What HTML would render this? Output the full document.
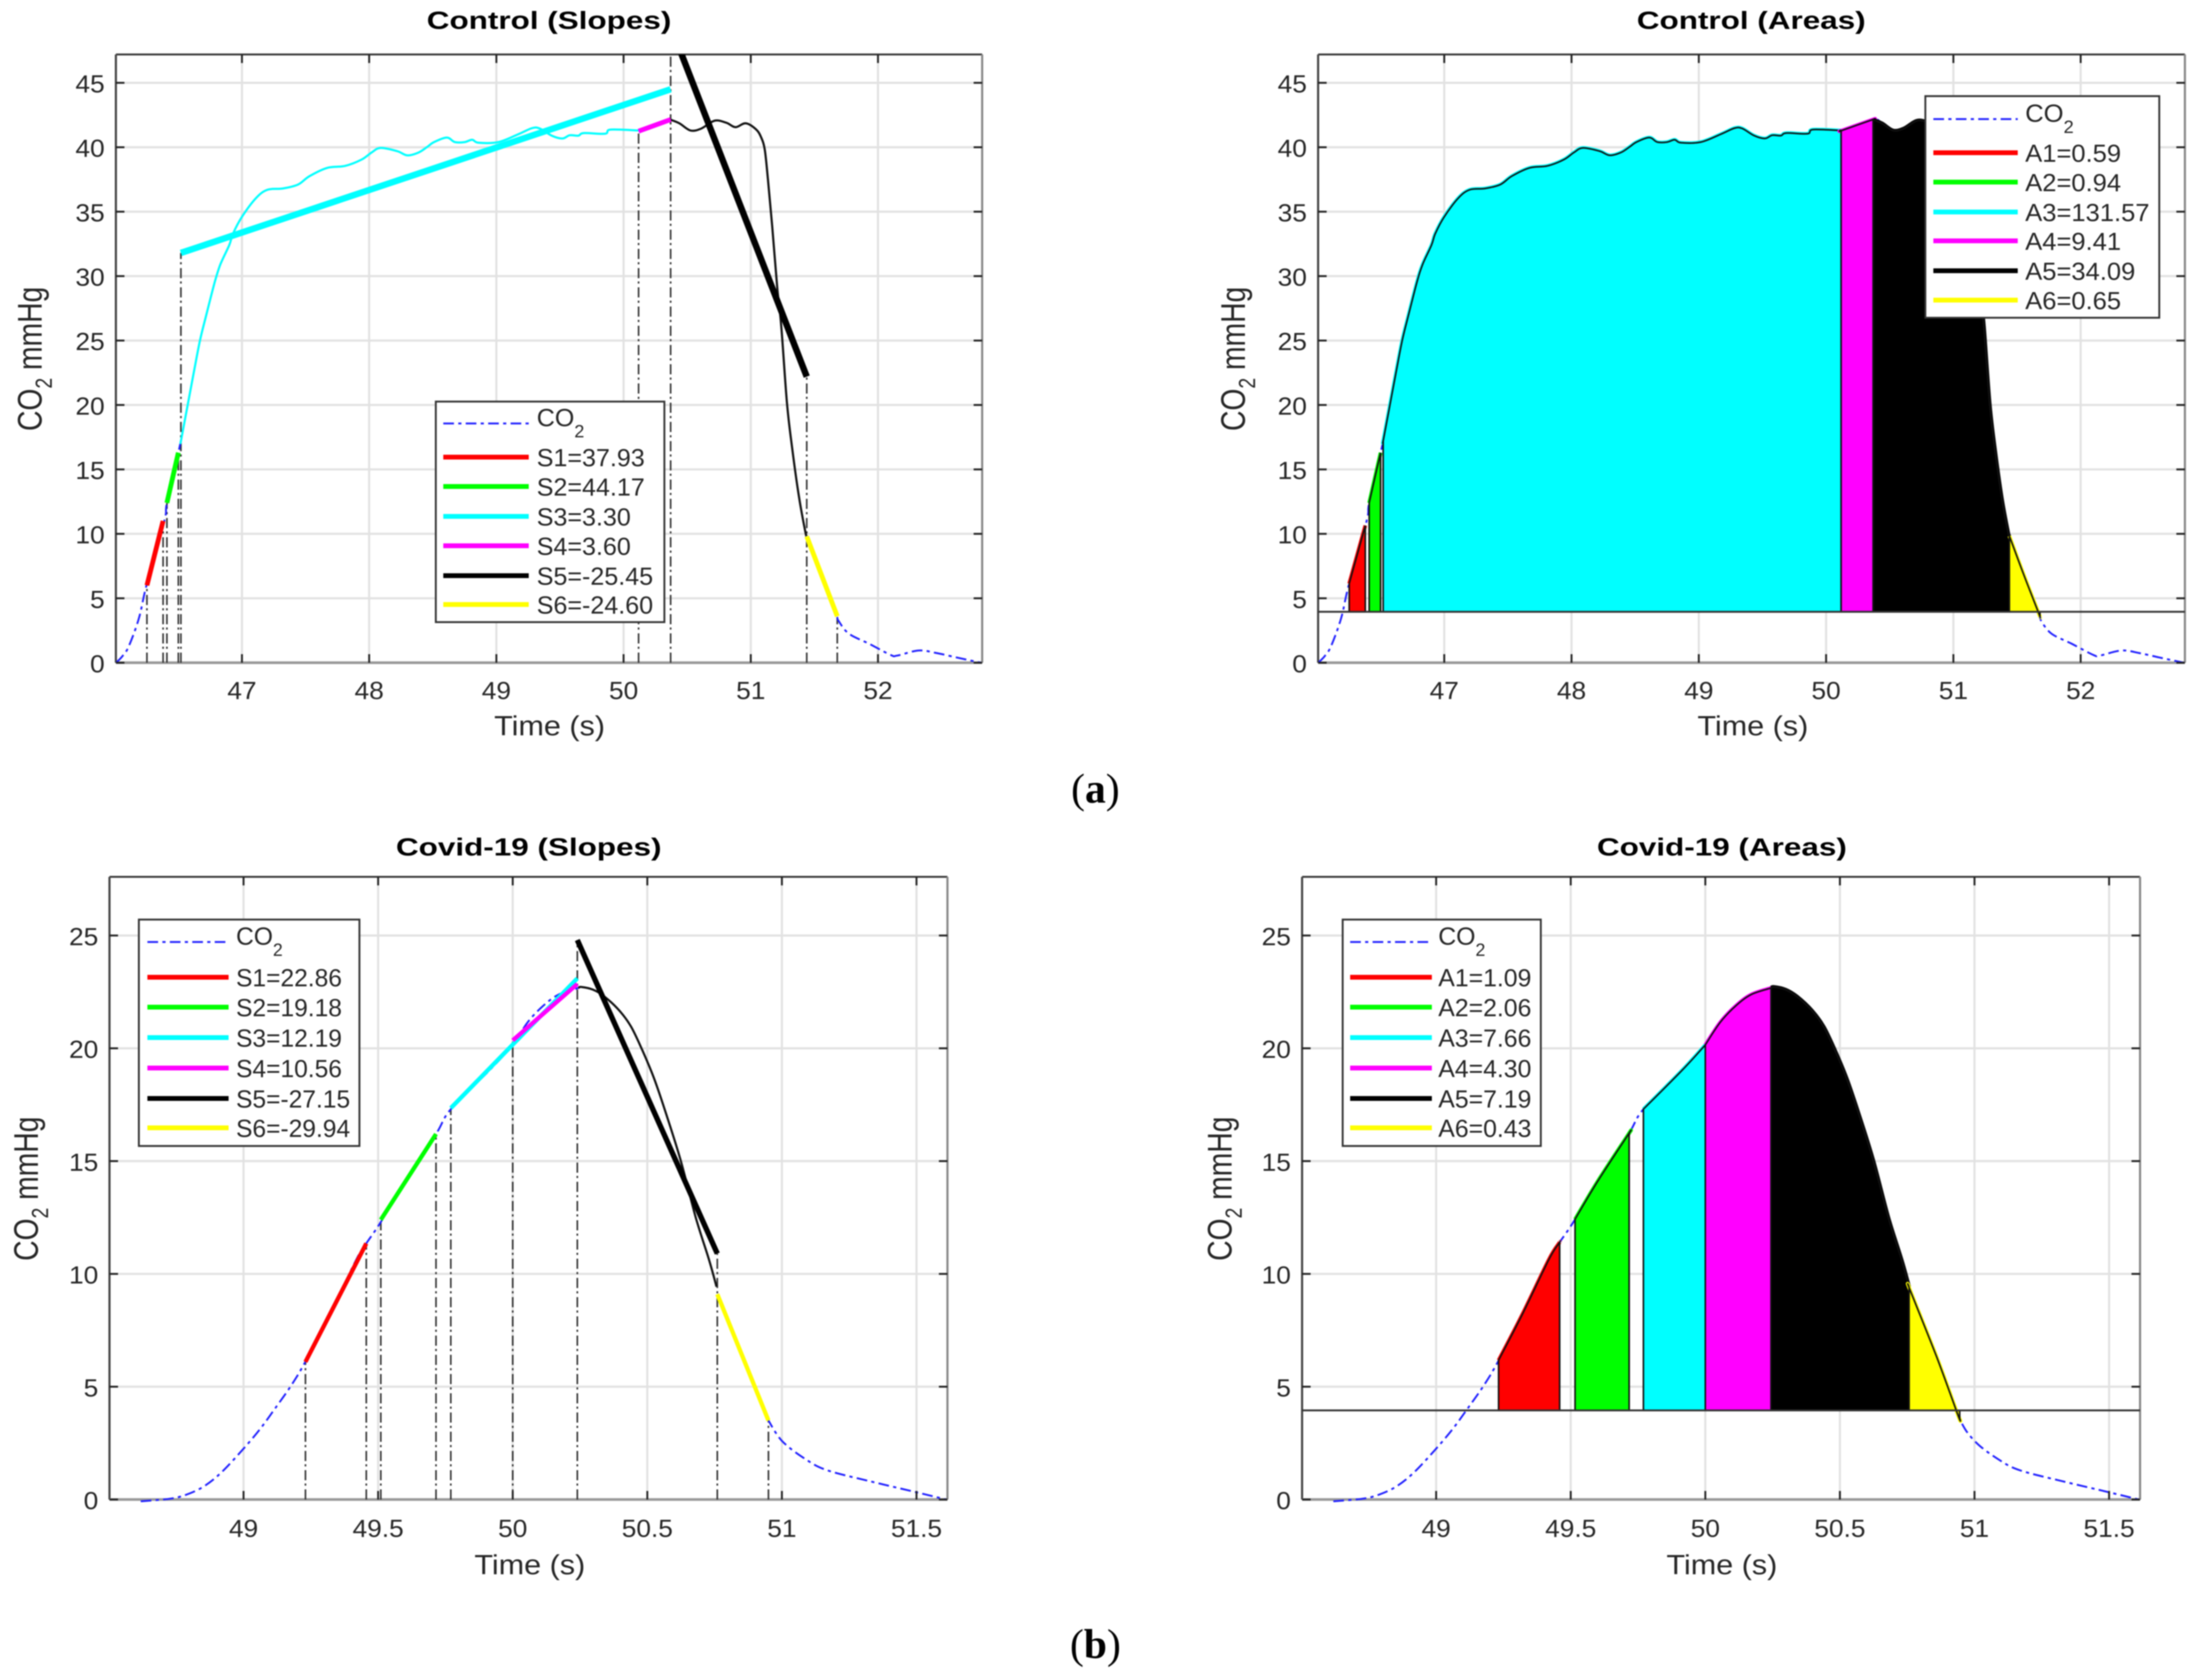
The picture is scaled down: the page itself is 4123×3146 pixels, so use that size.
<!DOCTYPE html>
<html lang="en">
<head>
<meta charset="utf-8">
<title>CO2 capnogram slopes and areas</title>
<style>
html,body{margin:0;padding:0;background:#fff;overflow:hidden}
svg{display:block;filter:blur(1px)}
text{font-family:"Liberation Sans",sans-serif;fill:#262626}
.leg{font-size:46px}
.sub{font-size:33px}
.title{font-size:46px;font-weight:bold;fill:#000;text-anchor:middle}
.xl{font-size:52px;text-anchor:middle}
.yl{font-size:53px;text-anchor:middle}
.yl .s2{font-size:36px}
.cap{font-family:"Liberation Serif",serif;font-size:78px;fill:#000;text-anchor:middle}
.box{fill:#fff;stroke:#333;stroke-width:3.5}
.co2{stroke:#2020ff;stroke-width:3.5;stroke-dasharray:20 8 6 8;fill:none}
</style>
</head>
<body>
<svg xmlns="http://www.w3.org/2000/svg" width="4123" height="3146" viewBox="0 0 4123 3146">
<rect x="0" y="0" width="4123" height="3146" fill="#fff"/>

<!-- Panel a, slopes -->
<g>
  <text class="title" transform="translate(1028,54) scale(1.28,1)">Control (Slopes)</text>
  <g id="plot-a-slopes"></g>
  <text class="xl" transform="translate(1029,1377) scale(1.1,1)">Time (s)</text>
  <text class="yl" transform="translate(78,672) scale(1.2,1) rotate(-90)">CO<tspan class="s2" dy="16">2</tspan><tspan dy="-16"> mmHg</tspan></text>
  <g>
    <rect class="box" x="816" y="752" width="428" height="413"/>
    <line class="co2" x1="830" y1="793" x2="990" y2="793"/>
    <text class="leg" transform="translate(1005,798) scale(1.02,1)">CO<tspan class="sub" dy="21">2</tspan></text>
    <line x1="830" y1="856" x2="990" y2="856" stroke="#ff0000" stroke-width="9"/>
    <text class="leg" transform="translate(1005,873) scale(1.02,1)">S1=37.93</text>
    <line x1="830" y1="911" x2="990" y2="911" stroke="#00ff00" stroke-width="9"/>
    <text class="leg" transform="translate(1005,928) scale(1.02,1)">S2=44.17</text>
    <line x1="830" y1="967" x2="990" y2="967" stroke="#00ffff" stroke-width="9"/>
    <text class="leg" transform="translate(1005,984) scale(1.02,1)">S3=3.30</text>
    <line x1="830" y1="1022" x2="990" y2="1022" stroke="#ff00ff" stroke-width="9"/>
    <text class="leg" transform="translate(1005,1039) scale(1.02,1)">S4=3.60</text>
    <line x1="830" y1="1078" x2="990" y2="1078" stroke="#000000" stroke-width="9"/>
    <text class="leg" transform="translate(1005,1095) scale(1.02,1)">S5=-25.45</text>
    <line x1="830" y1="1132" x2="990" y2="1132" stroke="#ffff00" stroke-width="9"/>
    <text class="leg" transform="translate(1005,1149) scale(1.02,1)">S6=-24.60</text>
  </g>
</g>

<!-- Panel a, areas -->
<g>
  <text class="title" transform="translate(3279,54) scale(1.28,1)">Control (Areas)</text>
  <g id="plot-a-areas"></g>
  <text class="xl" transform="translate(3282,1377) scale(1.1,1)">Time (s)</text>
  <text class="yl" transform="translate(2331,672) scale(1.2,1) rotate(-90)">CO<tspan class="s2" dy="16">2</tspan><tspan dy="-16"> mmHg</tspan></text>
  <g>
    <rect class="box" x="3605" y="180" width="438" height="415"/>
    <line class="co2" x1="3620" y1="223" x2="3778" y2="223"/>
    <text class="leg" transform="translate(3792,228) scale(1.04,1)">CO<tspan class="sub" dy="21">2</tspan></text>
    <line x1="3620" y1="286" x2="3778" y2="286" stroke="#ff0000" stroke-width="9"/>
    <text class="leg" transform="translate(3792,303) scale(1.04,1)">A1=0.59</text>
    <line x1="3620" y1="341" x2="3778" y2="341" stroke="#00ff00" stroke-width="9"/>
    <text class="leg" transform="translate(3792,358) scale(1.04,1)">A2=0.94</text>
    <line x1="3620" y1="397" x2="3778" y2="397" stroke="#00ffff" stroke-width="9"/>
    <text class="leg" transform="translate(3792,414) scale(1.04,1)">A3=131.57</text>
    <line x1="3620" y1="451" x2="3778" y2="451" stroke="#ff00ff" stroke-width="9"/>
    <text class="leg" transform="translate(3792,468) scale(1.04,1)">A4=9.41</text>
    <line x1="3620" y1="507" x2="3778" y2="507" stroke="#000000" stroke-width="9"/>
    <text class="leg" transform="translate(3792,524) scale(1.04,1)">A5=34.09</text>
    <line x1="3620" y1="562" x2="3778" y2="562" stroke="#ffff00" stroke-width="9"/>
    <text class="leg" transform="translate(3792,579) scale(1.04,1)">A6=0.65</text>
  </g>
</g>

<text class="cap" x="2051" y="1503">(<tspan font-weight="bold">a</tspan>)</text>

<!-- Panel b, slopes -->
<g>
  <text class="title" transform="translate(990,1602) scale(1.28,1)">Covid-19 (Slopes)</text>
  <g id="plot-b-slopes"></g>
  <text class="xl" transform="translate(992,2948) scale(1.1,1)">Time (s)</text>
  <text class="yl" transform="translate(71,2226) scale(1.2,1) rotate(-90)">CO<tspan class="s2" dy="16">2</tspan><tspan dy="-16"> mmHg</tspan></text>
  <g>
    <rect class="box" x="260" y="1722" width="413" height="424"/>
    <line class="co2" x1="276" y1="1764" x2="428" y2="1764"/>
    <text class="leg" transform="translate(442,1769) scale(1,1)">CO<tspan class="sub" dy="21">2</tspan></text>
    <line x1="276" y1="1830" x2="428" y2="1830" stroke="#ff0000" stroke-width="9"/>
    <text class="leg" transform="translate(442,1847) scale(1,1)">S1=22.86</text>
    <line x1="276" y1="1886" x2="428" y2="1886" stroke="#00ff00" stroke-width="9"/>
    <text class="leg" transform="translate(442,1903) scale(1,1)">S2=19.18</text>
    <line x1="276" y1="1943" x2="428" y2="1943" stroke="#00ffff" stroke-width="9"/>
    <text class="leg" transform="translate(442,1960) scale(1,1)">S3=12.19</text>
    <line x1="276" y1="2000" x2="428" y2="2000" stroke="#ff00ff" stroke-width="9"/>
    <text class="leg" transform="translate(442,2017) scale(1,1)">S4=10.56</text>
    <line x1="276" y1="2057" x2="428" y2="2057" stroke="#000000" stroke-width="9"/>
    <text class="leg" transform="translate(442,2074) scale(1,1)">S5=-27.15</text>
    <line x1="276" y1="2112" x2="428" y2="2112" stroke="#ffff00" stroke-width="9"/>
    <text class="leg" transform="translate(442,2129) scale(1,1)">S6=-29.94</text>
  </g>
</g>

<!-- Panel b, areas -->
<g>
  <text class="title" transform="translate(3224,1602) scale(1.28,1)">Covid-19 (Areas)</text>
  <g id="plot-b-areas"></g>
  <text class="xl" transform="translate(3224,2948) scale(1.1,1)">Time (s)</text>
  <text class="yl" transform="translate(2306,2226) scale(1.2,1) rotate(-90)">CO<tspan class="s2" dy="16">2</tspan><tspan dy="-16"> mmHg</tspan></text>
  <g>
    <rect class="box" x="2514" y="1722" width="371" height="424"/>
    <line class="co2" x1="2528" y1="1764" x2="2681" y2="1764"/>
    <text class="leg" transform="translate(2693,1769) scale(1.01,1)">CO<tspan class="sub" dy="21">2</tspan></text>
    <line x1="2528" y1="1830" x2="2681" y2="1830" stroke="#ff0000" stroke-width="9"/>
    <text class="leg" transform="translate(2693,1847) scale(1.01,1)">A1=1.09</text>
    <line x1="2528" y1="1886" x2="2681" y2="1886" stroke="#00ff00" stroke-width="9"/>
    <text class="leg" transform="translate(2693,1903) scale(1.01,1)">A2=2.06</text>
    <line x1="2528" y1="1943" x2="2681" y2="1943" stroke="#00ffff" stroke-width="9"/>
    <text class="leg" transform="translate(2693,1960) scale(1.01,1)">A3=7.66</text>
    <line x1="2528" y1="2000" x2="2681" y2="2000" stroke="#ff00ff" stroke-width="9"/>
    <text class="leg" transform="translate(2693,2017) scale(1.01,1)">A4=4.30</text>
    <line x1="2528" y1="2057" x2="2681" y2="2057" stroke="#000000" stroke-width="9"/>
    <text class="leg" transform="translate(2693,2074) scale(1.01,1)">A5=7.19</text>
    <line x1="2528" y1="2112" x2="2681" y2="2112" stroke="#ffff00" stroke-width="9"/>
    <text class="leg" transform="translate(2693,2129) scale(1.01,1)">A6=0.43</text>
  </g>
</g>

<text class="cap" x="2051" y="3105">(<tspan font-weight="bold">b</tspan>)</text>
</svg>

<script>
// ---- Control subject ----
const controlTime = [46.01,46.06,46.11,46.19,46.25,46.39,46.41,46.5,46.526,46.62,46.67,46.72,46.785,46.83,46.9,46.93,47,47.11,47.2,47.32,47.44,47.53,47.67,47.81,47.94,48.02,48.09,48.22,48.3,48.39,48.457,48.51,48.61,48.674,48.75,48.81,48.86,49.015,49.17,49.28,49.34,49.435,49.52,49.576,49.645,49.687,49.855,49.897,50.123,50.367,50.44,50.527,50.61,50.716,50.808,50.88,50.96,51.04,51.08,51.11,51.135,51.17,51.207,51.24,51.284,51.326,51.38,51.43,51.55,51.67,51.69,51.77,51.93,52.1,52.15,52.32,52.46,52.62,52.81];
const controlCO2 = [0,0.5,1.27,3.45,6.03,11,12.4,16.3,17.5,22.45,25,27,29.5,30.9,32.4,33.3,34.6,36.05,36.7,36.8,37.1,37.75,38.4,38.55,39.04,39.6,39.95,39.7,39.37,39.6,40.03,40.4,40.75,40.4,40.4,40.58,40.35,40.4,41,41.48,41.46,40.9,40.68,40.93,40.9,41.1,41.05,41.37,41.3,42.15,41.85,41.3,41.45,42.06,41.9,41.56,41.86,41.4,40.8,39.8,37.5,33.7,29.2,26.07,20.2,16.6,12.8,10.1,6.9,3.85,3.25,2.26,1.47,0.6,0.55,0.95,0.75,0.4,0];
const controlXTicks = [47,48,49,50,51,52];
const controlYTicks = [0,5,10,15,20,25,30,35,40,45];
const controlSlopeX1 = [46.253,46.41,46.52,50.118,50.37,51.44];
const controlSlopeY1 = [6,12.4,31.8,41.25,49.4,9.8];
const controlSlopeX2 = [46.38,46.5,50.37,50.37,51.44,51.68];
const controlSlopeY2 = [11,16.3,44.5,42.15,22.2,3.6];
const controlDropX = [46.253,46.38,46.41,46.5,46.52,50.118,50.37,51.44,51.68];
const controlDropTop = [6,11,12.4,16.3,31.8,41.2,47.2,22.2,3.5];
const controlAreaStart = [46.253,46.41,46.52,50.118,50.37,51.44];
const controlAreaEnd = [46.38,46.5,50.118,50.37,51.44,51.68];
const controlBaseline = [3.95];

// ---- Covid-19 subject ----
const covidTime = [48.618,48.724,48.784,48.85,48.916,48.996,49.06,49.115,49.174,49.226,49.32,49.419,49.456,49.51,49.6,49.715,49.77,49.915,50,50.056,50.113,50.17,50.24,50.255,50.298,50.34,50.397,50.44,50.482,50.524,50.567,50.623,50.68,50.73,50.76,50.86,50.94,51,51.09,51.17,51.33,51.5,51.61];
const covidCO2 = [-0.08,0.03,0.2,0.56,1.18,2.2,3.1,4,5,6.03,8.2,10.64,11.35,12.3,14.1,16.2,17.3,19.04,20.15,21.16,21.88,22.38,22.66,22.72,22.6,22.3,21.66,20.95,19.9,18.7,17.2,15.07,12.5,10.6,9.3,6.3,3.7,2.6,1.77,1.29,0.8,0.32,0];
const covidXTicks = [49,49.5,50,50.5,51,51.5];
const covidYTicks = [0,5,10,15,20,25];
const covidSlopeX1 = [49.23,49.51,49.77,50,50.24,50.76];
const covidSlopeY1 = [6.1,12.4,17.35,20.35,24.8,9.1];
const covidSlopeX2 = [49.456,49.715,50.24,50.24,50.76,50.95];
const covidSlopeY2 = [11.35,16.2,23.1,22.85,10.9,3.5];
const covidDropX = [49.23,49.456,49.51,49.715,49.77,50,50.24,50.76,50.95];
const covidDropTop = [6.1,11.3,12.3,16.2,17.3,20.3,24.8,10.9,3.5];
const covidAreaStart = [49.232,49.516,49.77,50,50.244,50.757];
const covidAreaEnd = [49.459,49.717,50,50.244,50.757,50.945];
const covidBaseline = [3.95];

// ---- Colours of the six phases ----
const phaseColors = ['#ff0000','#00ff00','#00ffff','#ff00ff','#000000','#ffff00'];

const SVGNS = 'http://www.w3.org/2000/svg';
function make(parent, tag, attrs){
  const el = document.createElementNS(SVGNS, tag);
  for(const k in attrs){ el.setAttribute(k, attrs[k]); }
  parent.appendChild(el);
  return el;
}
function sliceCurve(times, values, t0, t1){
  function at(t){
    for(let i=1;i<times.length;i++){
      if(t<=times[i]){
        const f=(t-times[i-1])/(times[i]-times[i-1]);
        return values[i-1]+f*(values[i]-values[i-1]);
      }
    }
    return values[values.length-1];
  }
  const out=[[t0,at(t0)]];
  for(let i=0;i<times.length;i++){
    if(times[i]>t0+1e-6 && times[i]<t1-1e-6){ out.push([times[i],values[i]]); }
  }
  out.push([t1,at(t1)]);
  return out;
}
// Smooth path through pixel points (Catmull-Rom), without the leading move command
function smoothSegments(p){
  let d='';
  for(let i=0;i<p.length-1;i++){
    const a=p[Math.max(i-1,0)], b=p[i], c=p[i+1], e=p[Math.min(i+2,p.length-1)];
    const c1x=b[0]+(c[0]-a[0])/6, c1y=b[1]+(c[1]-a[1])/6;
    const c2x=c[0]-(e[0]-b[0])/6, c2y=c[1]-(e[1]-b[1])/6;
    d+='C'+c1x.toFixed(1)+' '+c1y.toFixed(1)+' '+c2x.toFixed(1)+' '+c2y.toFixed(1)+' '+c[0].toFixed(1)+' '+c[1].toFixed(1);
  }
  return d;
}
function drawPanel(p){
  const g = document.getElementById(p.id);
  const x = t => p.left + (t-p.xMin)/(p.xMax-p.xMin)*(p.right-p.left);
  const y = v => p.bottom - v/p.yMax*(p.bottom-p.top);
  const toPx = arr => arr.map(a => [x(a[0]), y(a[1])]);

  const clipId = p.id + '-clip';
  const cp = make(g, 'clipPath', {id: clipId});
  make(cp, 'rect', {x: p.left, y: p.top, width: p.right-p.left, height: p.bottom-p.top+5});

  // grid
  p.xTicks.forEach(t => {
    const el = make(g, 'line', {x1:x(t), x2:x(t), y1:p.top, y2:p.bottom, stroke:'#e2e2e2', 'stroke-width':4});
    
    
  });
  p.yTicks.forEach(v => {
    const el = make(g, 'line', {x1:p.left, x2:p.right, y1:y(v), y2:y(v), stroke:'#e2e2e2', 'stroke-width':4});
    
    
  });

  // frame
  const frames = [[p.left,p.top,p.right,p.top,'#333',3.5],[p.left,p.top,p.left,p.bottom,'#444',4],[p.right,p.top,p.right,p.bottom,'#888',4],[p.left,p.bottom,p.right,p.bottom,'#999',5]];
  frames.forEach(f => {
    const el = make(g, 'line', {x1:f[0], y1:f[1], x2:f[2], y2:f[3], stroke:f[4], 'stroke-width':f[5]});
    
    
  });

  const marks = make(g, 'g', {'clip-path':'url(#'+clipId+')'});
  
  

  const first = p.time[0], last = p.time[p.time.length-1];
  const curveLine = (t0, t1, attrs, name) => {
    const px = toPx(sliceCurve(p.time,p.co2,t0,t1));
    const d = 'M'+px[0][0].toFixed(1)+' '+px[0][1].toFixed(1)+smoothSegments(px);
    const el = make(marks, 'path', Object.assign({d:d, fill:'none'}, attrs));
    
    
  };
  const blue = {stroke:'#2020ff','stroke-width':3.5,'stroke-dasharray':'20 8 6 8'};

  if(p.mode === 'slopes'){
    p.dropX.forEach((t,i) => {
      const el = make(marks, 'line', {x1:x(t), x2:x(t), y1:y(0), y2:y(p.dropTop[i]), stroke:'#333', 'stroke-width':3, 'stroke-dasharray':'19 7 4 6'});
      
      
    });
    p.thin.forEach(s => {
      if(s.color === 'blue'){
        curveLine(s.from(first), s.to(last), blue, 'co2-curve-dashed');
      } else {
        curveLine(s.from(first), s.to(last), {stroke:s.color,'stroke-width':4}, 'co2-curve-solid');
      }
    });
    p.slopeX1.forEach((t,i) => {
      const el = make(marks, 'line', {x1:x(t), y1:y(p.slopeY1[i]), x2:x(p.slopeX2[i]), y2:y(p.slopeY2[i]), stroke:phaseColors[i], 'stroke-width':p.slopeWidth(i)});
      
      
    });
  } else {
    curveLine(first, last, blue, 'co2-curve-dashed');
    p.areaStart.forEach((t0,i) => {
      const t1 = p.areaEnd[i];
      const base = y(p.baseline[0]);
      const top = toPx(sliceCurve(p.time,p.co2,t0,t1));
      const topD = 'M'+top[0][0].toFixed(1)+' '+top[0][1].toFixed(1)+smoothSegments(top);
      const edge = make(marks, 'path', {d:topD, fill:'none', stroke:phaseColors[i], 'stroke-width':7});
      
      
      const d = 'M'+top[0][0].toFixed(1)+' '+base.toFixed(1)+'L'+top[0][0].toFixed(1)+' '+top[0][1].toFixed(1)+smoothSegments(top)+'L'+top[top.length-1][0].toFixed(1)+' '+base.toFixed(1)+'Z';
      const el = make(marks, 'path', {d:d, fill:phaseColors[i], stroke:'#111', 'stroke-width':3});
      
      
    });
    const bl = make(marks, 'line', {x1:p.left, x2:p.right, y1:y(p.baseline[0]), y2:y(p.baseline[0]), stroke:'#333', 'stroke-width':3.5});
    
    
  }

  // ticks and labels
  p.xTicks.forEach(t => {
    [[p.bottom,p.bottom-16],[p.top,p.top+16]].forEach(s => {
      const el = make(g, 'line', {x1:x(t), x2:x(t), y1:s[0], y2:s[1], stroke:'#222', 'stroke-width':3.5});
      
      
    });
    const lab = make(g, 'text', {transform:'translate('+x(t)+','+(p.bottom+p.xLabelDy)+') scale(1.07,1)', 'font-size':46, 'text-anchor':'middle'});
    lab.textContent = String(t);
    
    
  });
  p.yTicks.forEach(v => {
    [[p.left,p.left+16],[p.right,p.right-16]].forEach(s => {
      const el = make(g, 'line', {x1:s[0], x2:s[1], y1:y(v), y2:y(v), stroke:'#222', 'stroke-width':3.5});
      
      
    });
    const lab = make(g, 'text', {transform:'translate('+(p.left-21)+','+(y(v)+18)+') scale(1.07,1)', 'font-size':46, 'text-anchor':'end'});
    lab.textContent = String(v);
    
    
  });
}

const controlAxes = {time:controlTime, co2:controlCO2, xTicks:controlXTicks, yTicks:controlYTicks, xMin:46.009, xMax:52.819, yMax:47.2, top:102, bottom:1241, xLabelDy:68};
const covidAxes = {time:covidTime, co2:covidCO2, xTicks:covidXTicks, yTicks:covidYTicks, xMin:48.502, xMax:51.615, yMax:27.6, top:1642, bottom:2808, xLabelDy:70};

drawPanel(Object.assign({}, controlAxes, {
  id:'plot-a-slopes', mode:'slopes', left:217, right:1839,
  slopeX1:controlSlopeX1, slopeY1:controlSlopeY1, slopeX2:controlSlopeX2, slopeY2:controlSlopeY2,
  dropX:controlDropX, dropTop:controlDropTop,
  slopeWidth:i => (i===2||i===4) ? 12 : 9,
  thin:[
    {color:'blue', from:a=>a, to:()=>controlAreaStart[2]},
    {color:'#00ffff', from:()=>controlAreaStart[2], to:()=>controlAreaEnd[2]},
    {color:'#111', from:()=>controlAreaStart[4], to:()=>controlAreaEnd[4]},
    {color:'blue', from:()=>controlAreaEnd[5], to:b=>b}
  ]
}));
drawPanel(Object.assign({}, controlAxes, {
  id:'plot-a-areas', mode:'areas', left:2468, right:4091,
  areaStart:controlAreaStart, areaEnd:controlAreaEnd, baseline:controlBaseline
}));
drawPanel(Object.assign({}, covidAxes, {
  id:'plot-b-slopes', mode:'slopes', left:205, right:1774,
  slopeX1:covidSlopeX1, slopeY1:covidSlopeY1, slopeX2:covidSlopeX2, slopeY2:covidSlopeY2,
  dropX:covidDropX, dropTop:covidDropTop,
  slopeWidth:i => i===4 ? 10 : 8,
  thin:[
    {color:'blue', from:a=>a, to:()=>covidAreaStart[4]},
    {color:'#111', from:()=>covidAreaStart[4], to:()=>covidAreaEnd[4]},
    {color:'blue', from:()=>covidAreaEnd[5], to:b=>b}
  ]
}));
drawPanel(Object.assign({}, covidAxes, {
  id:'plot-b-areas', mode:'areas', left:2438, right:4007,
  areaStart:covidAreaStart, areaEnd:covidAreaEnd, baseline:covidBaseline
}));
</script>
</body>
</html>
